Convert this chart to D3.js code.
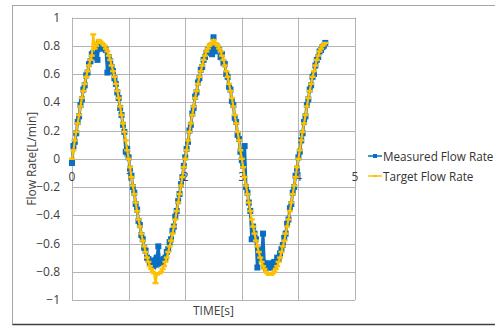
<!DOCTYPE html>
<html>
<head>
<meta charset="utf-8">
<script src="https://cdn.jsdelivr.net/npm/d3@7"></script>
<style>
  body { margin: 0; background: #fff; }
  svg { display: block; font-family: "Open Sans", sans-serif; }
  .tick-label { font-size: 12px; fill: #404040; }
  .legend-label { font-size: 11.7px; fill: #333; }
</style>
</head>
<body>
<div id="chart"></div>
<script>
// sample times (s)
const time = [
  0,0.025,0.05,0.075,0.1,0.125,0.15,0.175,0.2,0.225,
  0.25,0.275,0.3,0.325,0.35,0.375,0.4,0.425,0.45,0.475,
  0.5,0.525,0.55,0.575,0.6,0.625,0.65,0.675,0.7,0.725,
  0.75,0.775,0.8,0.825,0.85,0.875,0.9,0.925,0.95,0.975,
  1,1.025,1.05,1.075,1.1,1.125,1.15,1.175,1.2,1.225,
  1.25,1.275,1.3,1.325,1.35,1.375,1.4,1.425,1.45,1.475,
  1.5,1.525,1.55,1.575,1.6,1.625,1.65,1.675,1.7,1.725,
  1.75,1.775,1.8,1.825,1.85,1.875,1.9,1.925,1.95,1.975,
  2,2.025,2.05,2.075,2.1,2.125,2.15,2.175,2.2,2.225,
  2.25,2.275,2.3,2.325,2.35,2.375,2.4,2.425,2.45,2.475,
  2.5,2.525,2.55,2.575,2.6,2.625,2.65,2.675,2.7,2.725,
  2.75,2.775,2.8,2.825,2.85,2.875,2.9,2.925,2.95,2.975,
  3,3.025,3.05,3.075,3.1,3.125,3.15,3.175,3.2,3.225,
  3.25,3.275,3.3,3.325,3.35,3.375,3.4,3.425,3.45,3.475,
  3.5,3.525,3.55,3.575,3.6,3.625,3.65,3.675,3.7,3.725,
  3.75,3.775,3.8,3.825,3.85,3.875,3.9,3.925,3.95,3.975,
  4,4.025,4.05,4.075,4.1,4.125,4.15,4.175,4.2,4.225,
  4.25,4.275,4.3,4.325,4.35,4.375,4.4,4.425,4.45,4.475
]

const measured = [
  -0.03,0.09,0.12,0.18,0.26,0.30,0.38,0.42,0.49,0.52,
  0.59,0.61,0.67,0.69,0.74,0.75,0.72,0.80,0.70,0.82,
  0.78,0.80,0.79,0.78,0.77,0.61,0.72,0.69,0.65,0.62,
  0.57,0.53,0.47,0.43,0.36,0.31,0.24,0.19,0.05,0.07,
  0.01,-0.07,-0.12,-0.20,-0.24,-0.32,-0.36,-0.44,-0.47,-0.54,
  -0.57,-0.63,-0.65,-0.70,-0.71,-0.74,-0.73,-0.76,-0.72,-0.75,
  -0.70,-0.62,-0.74,-0.72,-0.74,-0.71,-0.70,-0.66,-0.64,-0.59,
  -0.57,-0.51,-0.48,-0.41,-0.37,-0.30,-0.25,-0.18,-0.13,-0.05,
  0.01,0.07,0.12,0.20,0.24,0.32,0.36,0.44,0.47,0.54,
  0.57,0.63,0.65,0.70,0.72,0.75,0.77,0.76,0.80,0.74,
  0.86,0.76,0.80,0.78,0.77,0.72,0.74,0.68,0.67,0.60,
  0.58,0.51,0.49,0.41,0.38,0.29,0.26,0.17,0.14,0.05,
  -0.01,-0.05,0.09,-0.20,-0.24,-0.31,-0.37,-0.57,-0.48,-0.53,
  -0.57,-0.77,-0.64,-0.69,-0.71,-0.53,-0.76,-0.74,-0.77,-0.75,
  -0.77,-0.74,-0.76,-0.73,-0.74,-0.70,-0.71,-0.67,-0.64,-0.61,
  -0.56,-0.53,-0.46,-0.43,-0.35,-0.32,-0.24,-0.20,-0.12,-0.07,
  0.01,0.05,0.13,0.18,0.26,0.30,0.38,0.42,0.49,0.52,
  0.58,0.60,0.66,0.70,0.72,0.76,0.77,0.79,0.80,0.82
]

const target = [
  0,0.06,0.13,0.19,0.25,0.31,0.37,0.43,0.48,0.53,
  0.58,0.62,0.66,0.70,0.73,0.88,0.78,0.80,0.82,0.84,
  0.83,0.82,0.81,0.80,0.78,0.76,0.73,0.70,0.66,0.62,
  0.58,0.53,0.48,0.43,0.37,0.31,0.25,0.19,0.13,0.06,
  0,-0.06,-0.13,-0.19,-0.25,-0.31,-0.37,-0.43,-0.48,-0.53,
  -0.58,-0.62,-0.66,-0.70,-0.73,-0.76,-0.78,-0.80,-0.81,-0.88,
  -0.82,-0.81,-0.81,-0.80,-0.78,-0.76,-0.73,-0.70,-0.66,-0.62,
  -0.58,-0.53,-0.48,-0.43,-0.37,-0.31,-0.25,-0.19,-0.13,-0.06,
  0,0.06,0.13,0.19,0.25,0.31,0.37,0.43,0.48,0.53,
  0.58,0.62,0.66,0.70,0.73,0.76,0.78,0.80,0.81,0.82,
  0.84,0.82,0.81,0.80,0.78,0.76,0.73,0.70,0.66,0.62,
  0.58,0.53,0.48,0.43,0.37,0.31,0.25,0.19,0.13,0.06,
  0,-0.06,-0.13,-0.19,-0.25,-0.31,-0.37,-0.43,-0.48,-0.53,
  -0.58,-0.62,-0.66,-0.70,-0.73,-0.76,-0.78,-0.80,-0.81,-0.82,
  -0.82,-0.82,-0.81,-0.80,-0.78,-0.76,-0.73,-0.70,-0.66,-0.62,
  -0.58,-0.53,-0.48,-0.43,-0.37,-0.31,-0.25,-0.19,-0.13,-0.06,
  0,0.06,0.13,0.19,0.25,0.31,0.37,0.43,0.48,0.53,
  0.58,0.62,0.66,0.70,0.73,0.76,0.78,0.80,0.81,0.82
]

const xTicks = [0, 1, 2, 3, 4, 5]
const yTicks = [-1, -0.8, -0.6, -0.4, -0.2, 0, 0.2, 0.4, 0.6, 0.8, 1]
const seriesNames = ["Measured Flow Rate", "Target Flow Rate"]

const width = 495, height = 327
const blue = "#0a6fc2", yellow = "#ffc000"
const plot = {left: 72, right: 355, top: 17.5, bottom: 300}

const svg = d3.select("#chart").append("svg")
    .attr("width", width)
    .attr("height", height)

// outer chart frame
svg.append("rect")
    .attr("x", 12.5).attr("y", 5.5)
    .attr("width", width).attr("height", 319)
    .attr("fill", "#fff")
    .attr("stroke", "#a6a6a6")
svg.append("line")
    .attr("x1", 12.5).attr("x2", width).attr("y1", 324.5).attr("y2", 324.5)
    .attr("stroke", "#404040").attr("stroke-width", 1.5)

const xScale = d3.scaleLinear().domain([0, 5]).range([plot.left, plot.right])
const yScale = d3.scaleLinear().domain([-1, 1]).range([plot.bottom, plot.top])

// grid
const grid = svg.append("g").attr("class", "grid")
grid.selectAll("line.h").data(yTicks).enter().append("line")
    .attr("class", "h")
    .attr("x1", plot.left).attr("x2", plot.right)
    .attr("y1", d => Math.round(yScale(d)) + 0.5)
    .attr("y2", d => Math.round(yScale(d)) + 0.5)
    .attr("stroke", "#b4b4b4")
grid.selectAll("line.v").data(xTicks).enter().append("line")
    .attr("class", "v")
    .attr("x1", d => Math.round(xScale(d)) + 0.5)
    .attr("x2", d => Math.round(xScale(d)) + 0.5)
    .attr("y1", plot.top).attr("y2", plot.bottom)
    .attr("stroke", "#b4b4b4")

// tick labels
svg.selectAll("text.ylab").data(yTicks).enter().append("text")
    .attr("class", "tick-label ylab")
    .attr("x", 60)
    .attr("y", d => yScale(d) + 4)
    .attr("text-anchor", "end")
    .text(d => d3.format("")(d))
svg.selectAll("text.xlab").data(xTicks).enter().append("text")
    .attr("class", "tick-label xlab")
    .attr("x", d => xScale(d))
    .attr("y", yScale(0) + 22)
    .attr("text-anchor", "middle")
    .text(d => d)

// axis titles
svg.append("text")
    .attr("class", "tick-label")
    .attr("transform", `translate(36,${yScale(0)}) rotate(-90)`)
    .attr("text-anchor", "middle")
    .text("Flow Rate[L/min]")
svg.append("text")
    .attr("class", "tick-label")
    .attr("x", (plot.left + plot.right) / 2)
    .attr("y", 315)
    .attr("text-anchor", "middle")
    .text("TIME[s]")

const line = d3.line()
    .x(d => xScale(d[0]))
    .y(d => yScale(d[1]))

const measuredPts = d3.zip(time, measured)
const targetPts = d3.zip(time, target)

// measured series
const mg = svg.append("g").attr("class", "measured")
mg.append("path")
    .datum(measuredPts)
    .attr("d", line)
    .attr("fill", "none")
    .attr("stroke", blue)
    .attr("stroke-width", 3)
mg.selectAll("rect").data(measuredPts).enter().append("rect")
    .attr("x", d => xScale(d[0]) - 3)
    .attr("y", d => yScale(d[1]) - 3)
    .attr("width", 6).attr("height", 6)
    .attr("fill", blue)

// target series
const tg = svg.append("g").attr("class", "target")
tg.append("path")
    .datum(targetPts)
    .attr("d", line)
    .attr("fill", "none")
    .attr("stroke", yellow)
    .attr("stroke-width", 2.2)
tg.selectAll("rect").data(targetPts).enter().append("rect")
    .attr("x", d => xScale(d[0]) - 3)
    .attr("y", d => yScale(d[1]) - 1.2)
    .attr("width", 6).attr("height", 2.4)
    .attr("fill", yellow)

// legend
const legend = svg.append("g").attr("class", "legend")
const legendColors = [blue, yellow]
const items = legend.selectAll("g").data(seriesNames).enter().append("g")
    .attr("transform", (d, i) => `translate(368,${156 + i * 20})`)
items.append("line")
    .attr("x1", 0).attr("x2", 14)
    .attr("stroke", (d, i) => legendColors[i])
    .attr("stroke-width", 1.5)
items.append("rect")
    .attr("x", 5).attr("y", (d, i) => i === 0 ? -2 : -1)
    .attr("width", 4).attr("height", (d, i) => i === 0 ? 4 : 2)
    .attr("fill", (d, i) => legendColors[i])
items.append("text")
    .attr("class", "legend-label")
    .attr("x", 15)
    .attr("y", 4.5)
    .text(d => d)
</script>
</body>
</html>
